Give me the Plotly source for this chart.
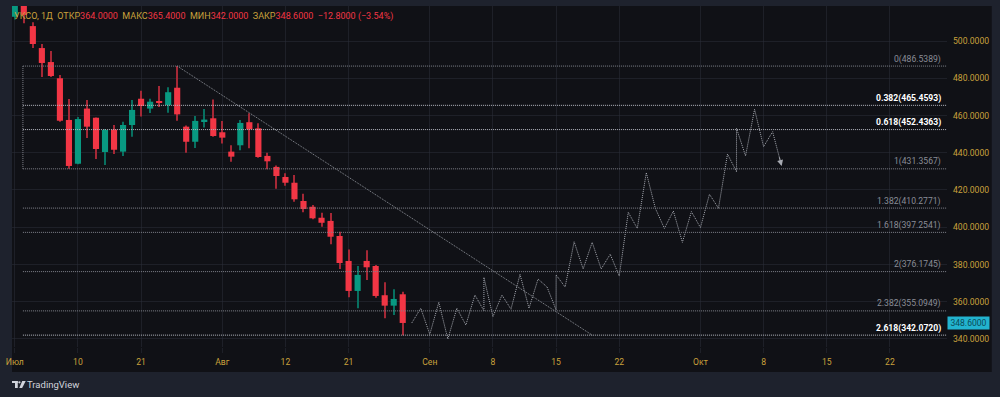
import plotly.graph_objects as go

# ---------------- data ----------------
bars = list(range(1, 45))
opens = [513.0, 520.0, 508.0, 496.2, 488.7, 480.0, 457.6, 434.1, 463.7, 458.8,
         440.4, 452.4, 440.6, 454.9, 469.0, 463.7, 467.8, 465.6, 474.9, 454.0,
         445.9, 456.9, 458.5, 451.0, 440.6, 444.0, 456.4, 453.1, 438.3, 432.4,
         427.0, 423.9, 414.1, 411.0, 405.1, 403.4, 395.3, 381.9, 365.8, 381.9,
         379.2, 363.5, 357.9, 364.0]
highs = [523.0, 521.5, 510.0, 498.4, 494.6, 481.7, 468.9, 459.2, 468.3, 458.9,
         452.8, 454.9, 456.7, 468.3, 473.3, 469.0, 475.8, 475.1, 486.5389, 454.6,
         459.7, 463.5, 468.6, 457.1, 444.0, 457.6, 461.2, 455.8, 440.0, 433.1,
         429.0, 428.1, 418.0, 412.0, 407.8, 407.7, 397.6, 388.0, 379.2, 387.6,
         379.7, 370.4, 366.7, 365.4]
lows = [511.5, 509.5, 496.2, 480.7, 480.7, 456.7, 431.3567, 433.8, 447.9, 436.6,
        433.4, 439.3, 438.3, 448.6, 459.4, 461.3, 464.6, 461.5, 457.2, 440.0,
        442.6, 453.5, 448.6, 444.9, 435.2, 441.3, 442.4, 437.3, 431.1, 420.7,
        422.3, 413.7, 408.0, 404.3, 400.3, 390.9, 377.6, 362.4, 356.5, 371.7,
        362.2, 351.1, 352.9, 342.0]
closes = [520.0, 514.0, 498.4, 488.2, 481.2, 457.2, 432.9, 458.1, 454.0, 442.0,
          452.2, 441.6, 454.9, 463.0, 465.1, 467.4, 466.9, 472.5, 460.6, 445.9,
          457.1, 457.8, 449.0, 448.1, 437.9, 456.0, 452.6, 437.7, 435.4, 427.5,
          423.9, 415.0, 409.8, 404.8, 402.4, 394.9, 380.8, 365.8, 374.4, 378.5,
          363.1, 357.9, 361.5, 348.6]

# projected path (bar index, price)
zz_bars = [45, 46, 47, 48, 49, 50, 51, 52, 53, 53, 54, 55, 56, 57, 58, 59, 60,
           61, 61, 62, 63, 64, 65, 66, 67, 68, 69, 70, 71, 72, 73, 74, 75, 76,
           77, 78, 79, 80, 81, 81, 82, 83, 84, 85, 86]
zz_prices = [348.6, 356.5, 342.5, 359.7, 340.0, 356.5, 347.5, 363.6, 355.2, 373.1,
             352.0, 363.6, 356.0, 374.7, 356.5, 372.2, 367.9, 355.6, 374.4, 367.9,
             392.2, 377.6, 391.9, 377.6, 385.5, 373.8, 408.0, 399.4, 429.3, 410.2,
             399.4, 408.7, 391.9, 408.4, 399.8, 417.7, 410.2, 439.3, 429.8, 453.1,
             438.3, 463.3, 443.3, 451.3, 432.9]

trend_bars = [19, 65]
trend_prices = [486.5389, 342.0720]

x_tick_bars = [1, 8, 15, 24, 31, 38, 47, 54, 61, 68, 77, 84, 91, 98]
x_tick_text = ["Июл", "10", "21", "Авг", "12", "21", "Сен", "8", "15", "22",
               "Окт", "8", "15", "22"]
y_ticks = [340, 360, 380, 400, 420, 440, 460, 480, 500]

fib_level_text = ["0", "0.382", "0.618", "1", "1.382", "1.618", "2", "2.382", "2.618"]
fib_prices = [486.5389, 465.4593, 452.4363, 431.3567, 410.2771, 397.2541,
              376.1745, 355.0949, 342.0720]
fib_bold = ["0.382", "0.618", "2.618"]
fib_start_bar = 1.9

symbol = "УКСО, 1Д"
last_price = 348.6
change_text = "−12.8000 (−3.54%)"

# ---------------- style ----------------
W, H = 1000, 397
L, R, T, B = 7, 53, 6, 50
PW, PH = W - L - R, H - T - B
GOLD = "#c9a13c"
RED = "#f23645"
GREEN = "#089981"
RED_WICK = "#a52836"
GREEN_WICK = "#087060"
BG = "#101116"
FRAME = "#1e222d"
GRID = "rgba(42,46,57,0.55)"
FONT = "Roboto, Lato, sans-serif"


def px_x(x):
    return (x - L) / PW


def px_y(y):
    return (H - B - y) / PH


fig = go.Figure()

up = [c >= o for o, c in zip(opens, closes)]
body_base = [min(o, c) for o, c in zip(opens, closes)]
body_h = [max(abs(c - o), 0.35) for o, c in zip(opens, closes)]

# wicks (thin bars, drawn under bodies)
fig.add_trace(go.Bar(
    x=bars, base=lows, y=[h - l for h, l in zip(highs, lows)],
    width=0.11, marker=dict(color=[GREEN_WICK if u else RED_WICK for u in up], line_width=0),
    hoverinfo="skip", showlegend=False))
# bodies
fig.add_trace(go.Bar(
    x=bars, base=body_base, y=body_h, width=0.68,
    marker=dict(color=[GREEN if u else RED for u in up], line_width=0),
    hoverinfo="skip", showlegend=False))

# trend line
fig.add_trace(go.Scatter(x=trend_bars, y=trend_prices, mode="lines",
                         line=dict(color="#8e9199", width=1, dash="1px,1px"),
                         hoverinfo="skip", showlegend=False))
# projected path
fig.add_trace(go.Scatter(x=zz_bars, y=zz_prices, mode="lines",
                         line=dict(color="#a6a9b1", width=1, dash="1px,1px"),
                         hoverinfo="skip", showlegend=False))

shapes = []
annotations = []
# panel background
shapes.append(dict(type="rect", xref="paper", yref="paper", layer="below",
                   x0=px_x(7), x1=px_x(992), y0=px_y(372), y1=px_y(6),
                   fillcolor=BG, line_width=0))

for txt, p in zip(fib_level_text, fib_prices):
    bold = txt in fib_bold
    shapes.append(dict(type="line", xref="x", yref="y", layer="above",
                       x0=fib_start_bar, x1=200, y0=p, y1=p,
                       line=dict(color="#b8bbc3" if bold else "#80838c", width=1, dash="1px,1px")))
    label = f"{txt}({p:.4f})"
    annotations.append(dict(
        xref="paper", yref="y", x=px_x(943), y=p, xanchor="right", yanchor="middle",
        yshift=7, showarrow=False,
        text=f"<b>{label}</b>" if bold else label,
        font=dict(family=FONT, size=8.6, color="#ffffff" if bold else "#8a8d96")))
# fib left border
shapes.append(dict(type="line", xref="x", yref="y", layer="above",
                   x0=fib_start_bar, x1=fib_start_bar, y0=fib_prices[0], y1=fib_prices[3],
                   line=dict(color="#80838c", width=1, dash="1px,1px")))

# arrow head at end of projected path
ex, ey = zz_bars[-1], zz_prices[-1]
annotations.append(dict(
    x=ex, y=ey, xref="x", yref="y", axref="x", ayref="y",
    ax=ex - 0.3 * (ex - zz_bars[-2]), ay=ey - 0.3 * (ey - zz_prices[-2]),
    showarrow=True, arrowhead=2, arrowsize=1.2, arrowwidth=1, arrowcolor="#a6a9b1", text=""))

# title
def red(s):
    return f"<span style='color:{RED}'>{s}</span>"

title = (f"{symbol}  ОТКР{red(f'{opens[-1]:.4f}')}  МАКС{red(f'{highs[-1]:.4f}')}  "
         f"МИН{red(f'{lows[-1]:.4f}')}  ЗАКР{red(f'{closes[-1]:.4f}')}  {red(change_text)}")
annotations.append(dict(xref="paper", yref="paper", x=px_x(7), y=px_y(16.5),
                        xanchor="left", yanchor="middle", showarrow=False, text=title,
                        font=dict(family=FONT, size=9, color=GOLD)))

# last price tag
annotations.append(dict(xref="paper", yref="y", x=px_x(947), y=last_price,
                        xanchor="left", yanchor="middle", showarrow=False,
                        text=f"{last_price:.4f}", bgcolor="#22b3cf", width=41, height=12,
                        borderpad=0, font=dict(family=FONT, size=8.6, color="#0b4b57")))

# TradingView logo + text
LOGO = "#d1d4dc"
shapes.append(dict(type="rect", xref="paper", yref="paper", x0=px_x(7), x1=px_x(12.8),
                   y0=px_y(383), y1=px_y(381), fillcolor=LOGO, line_width=0, layer="above"))
shapes.append(dict(type="rect", xref="paper", yref="paper", x0=px_x(10), x1=px_x(12.8),
                   y0=px_y(388), y1=px_y(381), fillcolor=LOGO, line_width=0, layer="above"))
shapes.append(dict(type="circle", xref="paper", yref="paper", x0=px_x(13.3), x1=px_x(15.6),
                   y0=px_y(383.5), y1=px_y(381.2), fillcolor=LOGO, line_width=0, layer="above"))
shapes.append(dict(type="path", xref="paper", yref="paper", layer="above",
                   path=(f"M {px_x(17.3)},{px_y(381)} L {px_x(20.8)},{px_y(381)} "
                         f"L {px_x(17.2)},{px_y(388)} L {px_x(14.3)},{px_y(388)} Z"),
                   fillcolor=LOGO, line_width=0))
annotations.append(dict(xref="paper", yref="paper", x=px_x(20.5), y=px_y(384.3),
                        xanchor="left", yanchor="middle", showarrow=False, text="TradingView",
                        font=dict(family=FONT, size=9.5, color=LOGO)))

fig.update_layout(
    width=W, height=H, margin=dict(l=L, r=R, t=T, b=B, pad=0),
    paper_bgcolor=FRAME, plot_bgcolor=BG, barmode="overlay",
    shapes=shapes, annotations=annotations, showlegend=False,
    font=dict(family=FONT, size=8.6, color=GOLD),
    xaxis=dict(range=[0.69, 104.33], tickmode="array", tickvals=x_tick_bars,
               ticktext=x_tick_text, showgrid=True, gridcolor=GRID, gridwidth=1,
               zeroline=False, showline=False, ticks="outside", ticklen=5, tickcolor=GRID,
               tickfont=dict(family=FONT, size=8.6, color=GOLD), ticklabelstandoff=2,
               fixedrange=True),
    yaxis=dict(range=[335.70, 518.79], side="right", tickmode="array", tickvals=y_ticks,
               ticktext=[f"{v:.4f}" for v in y_ticks], showgrid=True, gridcolor=GRID,
               gridwidth=1, zeroline=False, showline=False, ticks="",
               tickfont=dict(family=FONT, size=8.6, color=GOLD), ticklabelstandoff=5,
               fixedrange=True),
)

fig.write_html("out.html", config={"displayModeBar": False},
               post_script="document.body.style.margin='0';document.body.style.overflow='hidden';")
